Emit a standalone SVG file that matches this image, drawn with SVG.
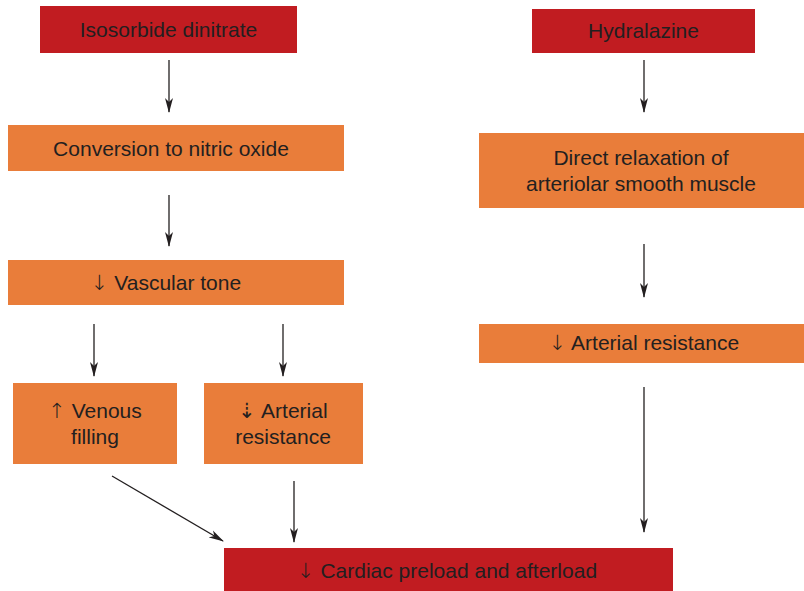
<svg xmlns="http://www.w3.org/2000/svg" width="804" height="591" viewBox="0 0 804 591">
<defs>
<style>
.red{fill:#c11c21}
.org{fill:#e97d3a}
text{font-family:"Liberation Sans",Arial,"DejaVu Sans",sans-serif;font-size:21px;fill:#231f20;text-anchor:middle}
.ar{font-family:"DejaVu Sans",sans-serif;font-weight:200}
.c line{stroke:#231f20;stroke-width:1.3;fill:none;marker-end:url(#ah)}
</style>
<marker id="ah" markerWidth="16" markerHeight="10" refX="14" refY="5" orient="auto" markerUnits="userSpaceOnUse" viewBox="0 0 16 10">
<path d="M0,1 L15,5 L0,9 L4,5 Z" fill="#231f20"/>
</marker>
</defs>
<rect width="804" height="591" fill="#fff"/>
<g id="isosorbide"><rect class="red" x="40" y="6" width="257" height="47"/><text x="168.5" y="36.5">Isosorbide dinitrate</text></g>
<g id="conversion"><rect class="org" x="8" y="125" width="336" height="46"/><text x="171" y="155.5">Conversion to nitric oxide</text></g>
<g id="vascular"><rect class="org" x="8" y="260" width="336" height="45"/><text x="166" y="289.5"><tspan class="ar">↓</tspan> Vascular tone</text></g>
<g id="venous"><rect class="org" x="13" y="383" width="164" height="81"/><text x="95" y="418"><tspan class="ar">↑</tspan> Venous</text><text x="95" y="444">filling</text></g>
<g id="arterialL"><rect class="org" x="204" y="383" width="159" height="81"/><text x="283" y="418"><tspan class="ar">⇣</tspan> Arterial</text><text x="283" y="444">resistance</text></g>
<g id="cardiac"><rect class="red" x="224" y="548" width="449" height="43"/><text x="447" y="577.5"><tspan class="ar">↓</tspan> Cardiac preload and afterload</text></g>
<g id="hydralazine"><rect class="red" x="532" y="9" width="223" height="44"/><text x="643.5" y="38">Hydralazine</text></g>
<g id="direct"><rect class="org" x="479" y="133" width="325" height="75"/><text x="641" y="165">Direct relaxation of</text><text x="641" y="191">arteriolar smooth muscle</text></g>
<g id="arterialR"><rect class="org" x="479" y="324" width="325" height="39"/><text x="644" y="350"><tspan class="ar">↓</tspan> Arterial resistance</text></g>
<g id="connectors" class="c">
<line x1="169" y1="60" x2="169" y2="112"/>
<line x1="169" y1="195" x2="169" y2="246"/>
<line x1="94" y1="324" x2="94" y2="376"/>
<line x1="283" y1="324" x2="283" y2="376"/>
<line x1="112" y1="476" x2="223" y2="541"/>
<line x1="294" y1="481" x2="294" y2="542"/>
<line x1="644" y1="60" x2="644" y2="112"/>
<line x1="644" y1="244" x2="644" y2="297"/>
<line x1="644" y1="387" x2="644" y2="532"/>
</g>
</svg>
